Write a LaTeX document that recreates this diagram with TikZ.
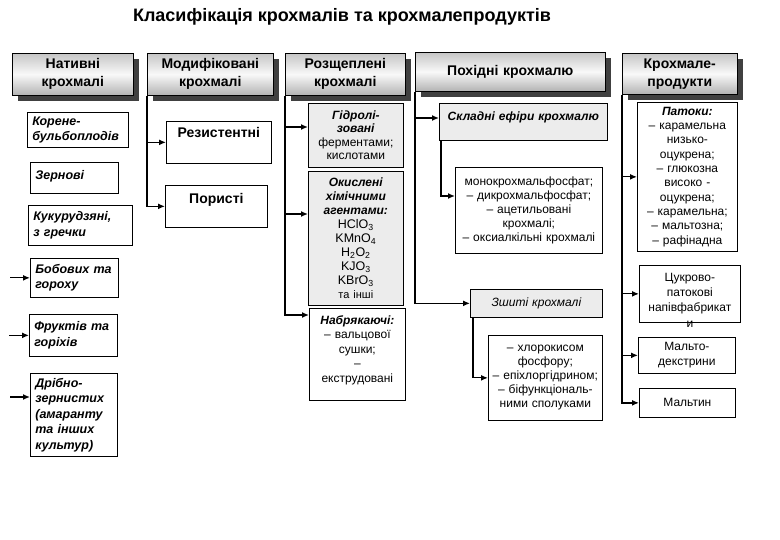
\documentclass[tikz,border=0pt]{standalone}
\usepackage{fontspec}
\setmainfont{Liberation Sans}
\usetikzlibrary{arrows.meta, shadows}

\tikzset{
  head/.style={draw, line width=0.6pt, anchor=north west, align=center, inner sep=2pt,
    top color=gray!45, bottom color=gray!60, middle color=gray!5,
    drop shadow={shadow xshift=6pt, shadow yshift=-6pt, fill=black!75, opacity=1},
    font=\fontsize{14}{18}\selectfont\bfseries},
  box/.style={draw, line width=0.7pt, anchor=north west, align=center, inner sep=3pt, fill=white,
    font=\fontsize{12}{14}\selectfont},
  greybox/.style={box, fill=gray!15},
  native/.style={box, align=left, inner xsep=5pt, font=\fontsize{12.5}{15.5}\selectfont\bfseries\itshape},
  conn/.style={line width=1.3pt, -{Latex[length=7pt, width=6pt]}}
}
\newcommand{\bfit}[1]{\textbf{\textit{#1}}}
\newcommand{\chem}[1]{{\fontsize{12.5}{14}\selectfont #1}}

\begin{document}
\begin{tikzpicture}[x=1pt, y=-1pt]
  \useasboundingbox (0,0) rectangle (780,540);
  \node[font=\fontsize{18}{21}\selectfont\bfseries] (title) at (342,17) {Класифікація крохмалів та крохмалепродуктів};

  \node[head, text width=117pt, minimum height=42pt] (nat) at (12,53) {Нативні\\крохмалі};
  \node[head, text width=122pt, minimum height=42pt] (modif) at (147,53) {Модифіковані\\крохмалі};
  \node[head, text width=116pt, minimum height=42pt] (rozsh) at (285,53) {Розщеплені\\крохмалі};
  \node[head, text width=186pt, minimum height=39pt] (pokhid) at (415,52) {Похідні крохмалю};
  \node[head, text width=111pt, minimum height=41pt] (produkt) at (622,53) {Крохмале-\\продукти};

  \node[native, text width=91pt, minimum height=35pt] (korene) at (27,112) {Корене-\\бульбоплодів};
  \node[native, text width=78pt, minimum height=31pt, text height=14pt, text depth=11pt] (zernovi) at (30,162) {Зернові};
  \node[native, text width=94pt, minimum height=40pt] (kukur) at (28,205) {Кукурудзяні,\\з гречки};
  \node[native, text width=78pt, minimum height=39pt] (bobovi) at (30,258) {Бобових та\\гороху};
  \node[native, text width=78pt, minimum height=42pt] (frukty) at (29,314) {Фруктів та\\горіхів};
  \node[native, text width=77pt, minimum height=83pt] (dribno) at (30,373) {Дрібно-\\зернистих\\(амаранту\\та інших\\культур)};

  \node[box, font=\fontsize{14}{16}\selectfont\bfseries, text width=99pt, minimum height=42pt, text height=13pt, text depth=23pt] (rezist) at (166,121) {Резистентні};
  \node[box, font=\fontsize{14}{16}\selectfont\bfseries, text width=96pt, minimum height=42pt, text height=15pt, text depth=21pt] (poryst) at (165,185) {Пористі};

  \node[greybox, font=\fontsize{12}{13.5}\selectfont, text width=89pt, minimum height=64pt] (hidrol) at (308,103) {\bfit{Гідролі-}\\\bfit{зовані}\\ферментами;\\кислотами};
  \node[greybox, text width=89pt, minimum height=134pt] (okysl) at (308,171) {\bfit{Окислені}\\\bfit{хімічними}\\\bfit{агентами:}\\\chem{HClO\textsubscript{3}}\\\chem{KMnO\textsubscript{4}}\\\chem{H\textsubscript{2}O\textsubscript{2}}\\\chem{KJO\textsubscript{3}}\\\chem{KBrO\textsubscript{3}}\\{\fontsize{11}{12}\selectfont та інші}};
  \node[box, font=\fontsize{12}{14.5}\selectfont, text width=90pt, minimum height=92pt, text height=13pt, text depth=73pt] (nabr) at (309,308) {\bfit{Набрякаючі:}\\– вальцової\\сушки;\\–\\екструдовані};

  \node[greybox, font=\fontsize{12}{14}\selectfont\bfseries\itshape, text width=162pt, minimum height=37pt, text height=14pt, text depth=17pt] (skladni) at (439,103) {Складні ефіри крохмалю};
  \node[box, text width=141pt, minimum height=86pt] (efiry) at (455,167) {монокрохмальфосфат;\\– дикрохмальфосфат;\\– ацетильовані\\крохмалі;\\– оксиалкільні крохмалі};
  \node[greybox, font=\fontsize{12}{14}\selectfont\itshape, text width=126pt, minimum height=28pt] (zshyti) at (470,289) {Зшиті крохмалі};
  \node[box, inner xsep=1pt, text width=112pt, minimum height=85pt] (zshsub) at (488,335) {– хлорокисом\\фосфору;\\– епіхлоргідрином;\\– біфункціональ-\\ними сполуками};

  \node[box, font=\fontsize{12}{14.3}\selectfont, text width=94pt, minimum height=149pt] (patoky) at (637,102) {\bfit{Патоки:}\\– карамельна\\низько-\\оцукрена;\\– глюкозна\\високо -\\оцукрена;\\– карамельна;\\– мальтозна;\\– рафінадна};
  \node[box, font=\fontsize{12}{15.3}\selectfont, text width=95pt, minimum height=57pt, text height=13pt, text depth=38pt] (tsukr) at (639,265) {Цукрово-\\патокові\\напівфабрикат\\и};
  \node[box, font=\fontsize{12}{15}\selectfont, text width=91pt, minimum height=36pt] (malto) at (638,337) {Мальто-\\декстрини};
  \node[box, text width=90pt, minimum height=29pt] (maltyn) at (639,388) {Мальтин};

  \draw[conn] ([xshift=-20pt]bobovi.west) -- (bobovi.west);
  \draw[conn] ([xshift=-20pt]frukty.west) -- (frukty.west);
  \draw[conn] ([xshift=-20pt, yshift=-24pt]dribno.north west) -- ([yshift=-24pt]dribno.north west);
  \draw[conn] (modif.south west) |- (rezist.west);
  \draw[conn] (modif.south west) |- (poryst.west);
  \draw[conn] (rozsh.south west) |- ([yshift=-24pt]hidrol.north west);
  \draw[conn] (rozsh.south west) |- ([yshift=-43pt]okysl.north west);
  \draw[conn] (rozsh.south west) |- ([yshift=-7pt]nabr.north west);
  \draw[conn] (pokhid.south west) |- ([yshift=-15pt]skladni.north west);
  \draw[conn] (pokhid.south west) |- (zshyti.west);
  \draw[conn] ([xshift=2pt]skladni.south west) |- ([yshift=-29pt]efiry.north west);
  \draw[conn] ([xshift=3pt]zshyti.south west) |- (zshsub.west);
  \draw[conn] (produkt.south west) |- (patoky.west);
  \draw[conn] (produkt.south west) |- (tsukr.west);
  \draw[conn] (produkt.south west) |- (malto.west);
  \draw[conn] (produkt.south west) |- (maltyn.west);
\end{tikzpicture}
\end{document}
